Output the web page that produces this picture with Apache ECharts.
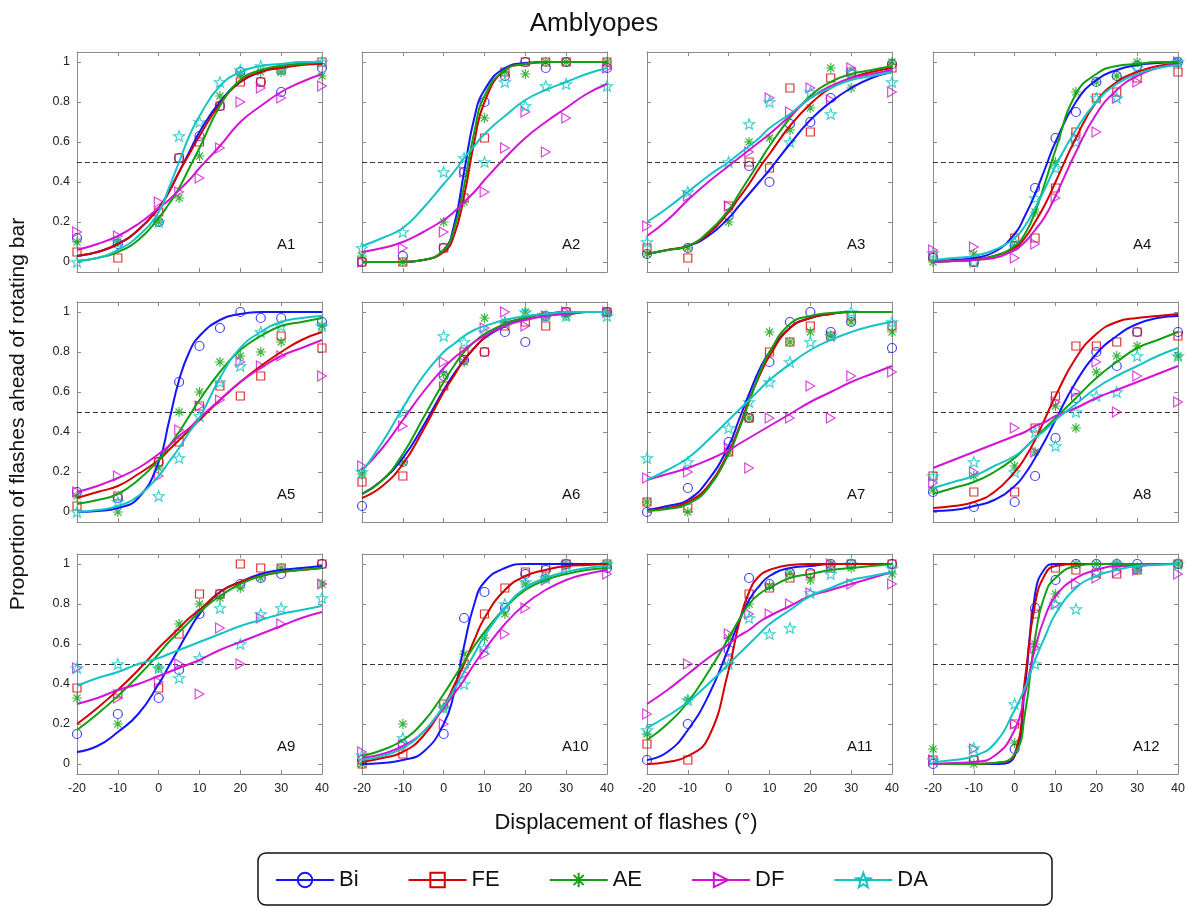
<!DOCTYPE html>
<html><head><meta charset="utf-8">
<script src="https://cdn.jsdelivr.net/npm/echarts@6/dist/echarts.min.js"></script>
<style>html,body{margin:0;padding:0;background:#fff}#c{width:1188px;height:908px}</style>
</head><body><div id="c"></div>
<script>
const SERIES_NAMES = ['Bi','FE','AE','DF','DA'];
const PANEL_LABELS = ['A1','A2','A3','A4','A5','A6','A7','A8','A9','A10','A11','A12'];
const POINT_X = [-20,-10,0,5,10,15,20,25,30,40];
const CURVE_X = [-20,-15,-10,-5,0,2.5,5,7.5,10,15,20,25,30,35,40];
const Y_TICKS = [0,0.2,0.4,0.6,0.8,1];

// measured points, order: Bi, FE, AE, DF, DA
const A1_points = [[.12,.09,.20,.52,.63,.78,.95,.90,.85,.97],[.05,.02,.25,.52,.60,.78,.90,.90,.96,1.0],[.10,.10,.20,.32,.53,.83,.94,.95,.95,.93],[.15,.13,.30,.35,.42,.57,.80,.87,.82,.88],[0,.10,.20,.63,.70,.90,.96,.98,.96,1.0]];
const A2_points = [[0,.03,.07,.45,.80,.93,1,.97,1,.97],[0,0,.07,.32,.62,.95,1,1,1,1],[.03,0,.20,.30,.72,.95,.94,1,1,1],[0,.07,.15,.45,.35,.57,.75,.55,.72,.97],[.07,.15,.45,.52,.50,.90,.78,.88,.89,.88]];
const A3_points = [[.04,.07,.23,.48,.40,.69,.70,.82,.94,.99],[.07,.02,.28,.50,.47,.87,.65,.92,.95,.97],[.04,.07,.20,.60,.62,.66,.77,.97,.87,1.0],[.18,.33,.28,.55,.82,.75,.87,.81,.97,.85],[.10,.35,.50,.69,.80,.60,.85,.74,.95,.90]];
const A4_points = [[.02,0,.08,.37,.62,.75,.90,.93,.98,1.0],[.03,0,.12,.12,.37,.65,.82,.85,.92,.95],[0,.04,.08,.25,.50,.85,.90,.93,1.0,1.0],[.06,.075,.02,.09,.32,.62,.65,.82,.90,1.0],[.045,0,.10,.32,.47,.60,.82,.82,.97,1.0]];
const A5_points = [[.10,.07,.25,.65,.83,.92,1.0,.97,.97,.95],[.03,.08,.25,.35,.53,.63,.58,.68,.88,.82],[.08,0,.22,.50,.60,.75,.78,.80,.85,.93],[.10,.18,.18,.41,.53,.56,.75,.73,.78,.68],[0,.05,.08,.27,.48,.65,.73,.90,.93,.93]];
const A6_points = [[.03,.25,.68,.76,.80,.90,.85,.98,1.0,1.0],[.15,.18,.63,.80,.80,.93,.95,.93,1.0,1.0],[.19,.25,.69,.75,.97,.95,1.0,.98,.98,1.0],[.23,.43,.75,.76,.92,1.0,.93,.98,1.0,1.0],[.20,.50,.88,.85,.90,.95,1.0,.98,.98,.98]];
const A7_points = [[0,.12,.35,.47,.75,.95,1.0,.90,.95,.82],[.05,.02,.30,.47,.80,.85,.93,.88,.98,.93],[.05,0,.30,.47,.90,.85,.90,.88,.95,.90],[.17,.20,.32,.22,.47,.47,.63,.47,.68,.70],[.27,.25,.42,.55,.65,.75,.85,.88,1.0,.95]];
const A8_points = [[.10,.025,.05,.18,.37,.57,.80,.73,.90,.90],[.18,.10,.10,.42,.58,.83,.83,.85,.90,.88],[.11,.18,.23,.30,.53,.42,.70,.78,.83,.78],[.145,.20,.42,.30,.55,.60,.75,.50,.68,.55],[.18,.25,.20,.40,.33,.50,.58,.60,.78,.78]];
const A9_points = [[.15,.25,.33,.47,.75,.85,.90,.93,.95,1.0],[.38,.35,.38,.65,.85,.85,1.0,.98,.98,1.0],[.33,.20,.48,.70,.80,.83,.88,.93,.98,.90],[.48,.33,.41,.50,.35,.68,.50,.73,.70,.90],[.48,.50,.48,.43,.53,.78,.60,.75,.78,.83]];
const A10_points = [[.02,.10,.15,.73,.86,.78,.95,.97,1.0,.98],[0,.05,.30,.50,.75,.88,.96,.98,1.0,1.0],[0,.20,.28,.55,.63,.75,.90,.93,.99,1.0],[.06,.095,.20,.45,.55,.65,.78,.92,.99,.95],[.045,.13,.28,.40,.58,.80,.91,.93,1.0,1.0]];
const A11_points = [[.02,.20,.57,.93,.90,.955,.955,1.0,1.0,1.0],[.10,.02,.52,.85,.88,.93,.95,.98,1.0,1.0],[.15,.32,.63,.80,.89,.955,.92,1.0,.98,.95],[.25,.50,.65,.75,.75,.80,.855,1.0,.90,.90],[.17,.32,.50,.73,.65,.68,.855,.95,1.0,.98]];
const A12_points = [[0,.02,.075,.78,.92,1.0,1.0,1.0,1.0,1.0],[.02,.02,.20,.75,.98,.97,.955,.95,.97,1.0],[.075,0,.105,.60,.85,1.0,1.0,1.0,.97,1.0],[.02,.075,.20,.58,.80,.90,.93,.96,.97,.95],[.02,.08,.30,.50,.80,.775,.955,1.0,.98,1.0]];

// fitted curves at CURVE_X, order: Bi, FE, AE, DF, DA
const A1_curves = [[.03,.05,.09,.16,.27,.35,.45,.55,.65,.80,.90,.95,.98,.99,.995],[.03,.05,.09,.16,.27,.35,.45,.54,.63,.79,.90,.95,.97,.985,.99],[.005,.02,.05,.11,.22,.29,.37,.47,.57,.78,.91,.96,.98,.99,1],[.06,.09,.13,.19,.27,.31,.36,.41,.47,.58,.70,.78,.85,.90,.94],[.005,.02,.06,.13,.25,.37,.50,.63,.73,.88,.95,.98,.99,1,1]];
const A2_curves = [[0,0,0,.01,.06,.18,.45,.72,.86,.97,.995,1,1,1,1],[0,0,0,.01,.05,.13,.33,.60,.80,.96,.99,1,1,1,1],[0,0,0,.01,.06,.16,.38,.65,.83,.96,.99,1,1,1,1],[.05,.07,.10,.15,.21,.25,.30,.35,.41,.52,.62,.70,.77,.84,.89],[.08,.12,.17,.27,.39,.45,.52,.58,.64,.73,.81,.86,.90,.94,.97]];
const A3_curves = [[.04,.06,.08,.13,.22,.28,.34,.40,.46,.59,.71,.80,.87,.92,.95],[.04,.06,.08,.14,.25,.32,.39,.47,.54,.68,.79,.87,.92,.95,.97],[.04,.06,.08,.15,.26,.34,.42,.50,.58,.72,.83,.90,.94,.96,.98],[.13,.21,.31,.40,.48,.52,.56,.60,.64,.73,.82,.88,.92,.94,.96],[.20,.27,.35,.43,.50,.54,.58,.62,.67,.74,.82,.87,.91,.93,.95]];
const A4_curves = [[.005,.01,.02,.05,.14,.23,.34,.47,.60,.80,.91,.96,.985,.995,1],[0,.005,.01,.03,.07,.12,.20,.29,.40,.62,.80,.90,.95,.98,.99],[0,.005,.01,.03,.08,.14,.25,.40,.56,.84,.94,.98,.99,1,1],[0,.005,.01,.02,.06,.10,.16,.23,.33,.55,.74,.86,.93,.97,.99],[.01,.02,.03,.06,.12,.18,.27,.37,.48,.66,.80,.89,.94,.97,.985]];
const A5_curves = [[0,.005,.02,.07,.25,.45,.66,.80,.88,.96,.99,1,1,1,1],[.07,.10,.13,.19,.26,.31,.36,.41,.46,.56,.65,.73,.80,.86,.90],[.04,.06,.09,.16,.26,.33,.40,.48,.56,.70,.81,.88,.93,.95,.97],[.10,.13,.17,.22,.29,.33,.38,.42,.47,.56,.65,.72,.78,.82,.86],[0,.01,.03,.08,.18,.25,.32,.40,.47,.67,.82,.90,.95,.97,.98]];
const A6_curves = [[.09,.16,.27,.43,.61,.69,.76,.82,.87,.93,.97,.99,1,1,1],[.07,.13,.24,.41,.60,.68,.76,.82,.87,.94,.97,.99,.99,1,1],[.09,.16,.29,.47,.65,.73,.80,.85,.89,.94,.97,.99,.99,1,1],[.21,.32,.46,.60,.72,.77,.81,.85,.88,.93,.96,.98,.99,1,1],[.20,.35,.52,.68,.80,.84,.88,.91,.93,.96,.98,.99,1,1,1]];
const A7_curves = [[.01,.03,.06,.16,.33,.46,.59,.71,.80,.92,.97,.99,1,1,1],[.01,.02,.05,.13,.30,.42,.56,.68,.78,.92,.97,.99,1,1,1],[.005,.015,.04,.12,.29,.41,.55,.69,.80,.94,.98,.995,1,1,1],[.16,.19,.22,.26,.31,.34,.37,.40,.43,.49,.55,.60,.65,.69,.73],[.16,.21,.27,.36,.46,.51,.56,.61,.66,.74,.81,.86,.90,.93,.95]];
const A8_curves = [[.005,.01,.03,.06,.13,.19,.27,.36,.46,.65,.79,.88,.94,.97,.98],[.02,.03,.05,.10,.20,.27,.36,.47,.58,.77,.89,.95,.97,.98,.99],[.09,.12,.15,.20,.27,.32,.37,.42,.47,.57,.67,.75,.82,.86,.90],[.22,.26,.30,.34,.38,.40,.43,.45,.48,.52,.57,.61,.65,.69,.73],[.12,.15,.18,.23,.28,.32,.37,.41,.46,.54,.62,.68,.73,.78,.82]];
const A9_curves = [[.06,.09,.16,.25,.40,.49,.58,.67,.75,.86,.91,.95,.97,.98,.99],[.20,.28,.37,.47,.58,.63,.68,.73,.77,.86,.91,.94,.96,.97,.98],[.17,.25,.34,.44,.55,.61,.66,.71,.76,.84,.90,.94,.96,.97,.98],[.30,.33,.37,.40,.44,.46,.48,.50,.52,.57,.61,.65,.69,.73,.76],[.39,.43,.46,.50,.53,.55,.57,.59,.61,.65,.69,.72,.75,.77,.79]];
const A10_curves = [[0,.005,.02,.06,.20,.35,.59,.80,.91,.98,1,1,1,1,1],[.01,.03,.06,.14,.29,.39,.50,.62,.73,.87,.94,.97,.99,.995,1],[.04,.07,.12,.21,.35,.43,.51,.59,.66,.78,.87,.92,.95,.97,.98],[.03,.05,.09,.16,.28,.35,.42,.50,.57,.70,.80,.87,.92,.95,.97],[.02,.04,.08,.16,.29,.37,.46,.55,.64,.78,.88,.93,.96,.98,.99]];
const A11_curves = [[.02,.06,.17,.34,.58,.71,.82,.89,.94,.98,.99,1,1,1,1],[0,.01,.04,.13,.47,.70,.86,.94,.97,.995,1,1,1,1,1],[.12,.20,.31,.46,.63,.72,.80,.85,.88,.93,.95,.97,.98,.99,1],[.30,.37,.45,.53,.60,.64,.67,.71,.74,.79,.84,.87,.90,.93,.96],[.18,.24,.31,.40,.50,.55,.60,.65,.70,.77,.84,.88,.92,.94,.96]];
const A12_curves = [[0,0,0,0,.04,.38,.85,.98,1,1,1,1,1,1,1],[0,0,0,.005,.05,.42,.80,.95,.99,1,1,1,1,1,1],[0,0,0,.005,.05,.25,.63,.85,.93,.99,1,1,1,1,1],[0,.005,.01,.04,.17,.35,.58,.74,.84,.93,.97,.99,.99,1,1],[.01,.02,.04,.10,.27,.38,.52,.64,.75,.88,.94,.97,.99,.995,1]];

const PANEL_POINTS = [A1_points,A2_points,A3_points,A4_points,A5_points,A6_points,A7_points,A8_points,A9_points,A10_points,A11_points,A12_points];
const PANEL_CURVES = [A1_curves,A2_curves,A3_curves,A4_curves,A5_curves,A6_curves,A7_curves,A8_curves,A9_curves,A10_curves,A11_curves,A12_curves];

// ---- styling ----
const FF = '"Liberation Sans", Arial, Helvetica, sans-serif';
const COLORS = ['#1414ff','#d40000','#12a012','#d414d4','#14c4c4'];
const AX = '#8a8a8a';
function starPath(){
  const p=[];
  for(let k=0;k<10;k++){const a=-Math.PI/2+k*Math.PI/5;const r=k%2===0?10:4.2;p.push((r*Math.cos(a)).toFixed(2)+','+(r*Math.sin(a)).toFixed(2));}
  return 'path://M'+p.join('L')+'Z';
}
const SYMBOLS = ['circle','rect','path://M0,-10L0,10M-10,0L10,0M-7.07,-7.07L7.07,7.07M-7.07,7.07L7.07,-7.07','path://M-8.66,-10L8.66,0L-8.66,10Z',starPath()];
const SYM_SIZE = [9,8,10,10,11];
const LEFTS=[77,362,647,933], TOPS=[52,302,554], W=245, H=220;

const grid=[], xAxis=[], yAxis=[], series=[], graphic=[];
for(let p=0;p<12;p++){
  const r=Math.floor(p/4), c=p%4;
  grid.push({left:LEFTS[c], top:TOPS[r], width:W, height:H, containLabel:false});
  const common = {axisLine:{show:true,onZero:false,lineStyle:{color:AX,width:1}},
                  axisTick:{show:true,inside:true,length:4,lineStyle:{color:AX}},
                  splitLine:{show:false}};
  xAxis.push(Object.assign({type:'value',gridIndex:p,position:'bottom',min:-20,max:40,interval:10,
     axisLabel:{show:r===2,color:'#222',fontSize:12.5,fontFamily:FF,margin:8}},JSON.parse(JSON.stringify(common))));
  xAxis.push(Object.assign({type:'value',gridIndex:p,position:'top',min:-20,max:40,interval:10,
     axisLabel:{show:false}},JSON.parse(JSON.stringify(common))));
  const yl = Object.assign({type:'value',gridIndex:p,position:'left',min:-0.05,max:1.05,
     axisLabel:{show:c===0,color:'#222',fontSize:12.5,fontFamily:FF,margin:7,customValues:Y_TICKS,formatter:v=>String(+v.toFixed(1))}},JSON.parse(JSON.stringify(common)));
  yl.axisTick.customValues=Y_TICKS;
  yAxis.push(yl);
  const yr = Object.assign({type:'value',gridIndex:p,position:'right',min:-0.05,max:1.05,
     axisLabel:{show:false}},JSON.parse(JSON.stringify(common)));
  yr.axisTick.customValues=Y_TICKS;
  yAxis.push(yr);

  for(let s=0;s<5;s++){
    const col=COLORS[s];
    const ser={type:'line',name:SERIES_NAMES[s],xAxisIndex:2*p,yAxisIndex:2*p,
      data:CURVE_X.map((x,i)=>[x,PANEL_CURVES[p][s][i]]),
      smooth:0.5,showSymbol:false,symbol:SYMBOLS[s],symbolSize:SYM_SIZE[s],symbolKeepAspect:true,
      lineStyle:{color:col,width:2},itemStyle:{color:'rgba(255,255,255,0)',borderColor:col,borderWidth:1.5},
      silent:true,z:3};
    if(s===0){
      ser.markLine={silent:true,symbol:['none','none'],label:{show:false},
        lineStyle:{type:[5,3],color:'#333',width:1},data:[{yAxis:0.5}],z:1};
    }
    series.push(ser);
  }
  for(let s=0;s<5;s++){
    const col=COLORS[s];
    series.push({type:'scatter',name:SERIES_NAMES[s]+' data',xAxisIndex:2*p,yAxisIndex:2*p,
      data:POINT_X.map((x,i)=>[x,PANEL_POINTS[p][s][i]]),
      symbol:SYMBOLS[s],symbolSize:SYM_SIZE[s],symbolKeepAspect:true,
      itemStyle:{color:'rgba(255,255,255,0)',borderColor:col,borderWidth:1.2},silent:true,z:2});
  }
  graphic.push({type:'text',left:LEFTS[c]+200,top:TOPS[r]+185,z:10,
    style:{text:PANEL_LABELS[p],font:'15px '+FF,fill:'#111'}});
}
graphic.push({type:'text',x:18,y:414,rotation:Math.PI/2,z:10,
  style:{text:'Proportion of flashes ahead of rotating bar',font:'21px '+FF,fill:'#111',textAlign:'center',textVerticalAlign:'middle'}});
graphic.push({type:'text',x:626,y:823,z:10,
  style:{text:'Displacement of flashes (°)',font:'22px '+FF,fill:'#111',textAlign:'center',textVerticalAlign:'middle'}});
graphic.push({type:'rect',shape:{x:258,y:853,width:794,height:52,r:8},z:0,
  style:{fill:'#fff',stroke:'#111',lineWidth:1.5}});

const chart=echarts.init(document.getElementById('c'),null,{renderer:'canvas'});
chart.setOption({
  animation:false,
  backgroundColor:'#fff',
  title:{text:'Amblyopes',left:'center',top:6,textStyle:{fontSize:26,fontWeight:'normal',color:'#111',fontFamily:FF}},
  legend:{data:SERIES_NAMES,left:270,top:864,itemWidth:58,itemHeight:18,itemGap:49,z:5,
    textStyle:{fontSize:22,color:'#111',fontFamily:FF}},
  grid, xAxis, yAxis, series, graphic
});
</script></body></html>
